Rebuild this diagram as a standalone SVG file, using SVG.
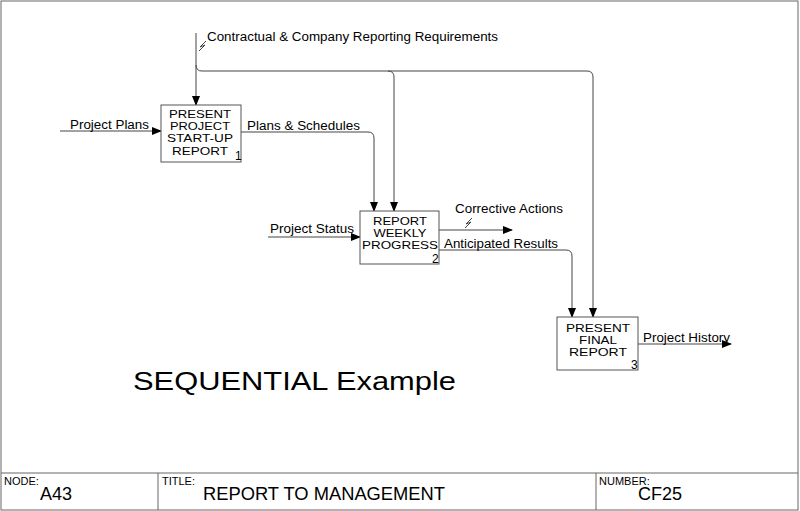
<svg xmlns="http://www.w3.org/2000/svg" width="800" height="511" viewBox="0 0 800 511">
<defs>
<marker id="ah" markerWidth="10" markerHeight="8" refX="9" refY="4" orient="auto" markerUnits="userSpaceOnUse">
<path d="M0,0 L10,4 L0,8 Z" fill="#000"/>
</marker>
</defs>
<style>
text{font-family:"Liberation Sans",Arial,sans-serif;fill:#000}
.box{fill:#fff;stroke:#555;stroke-width:1}
.bt{font-size:10.5px;text-anchor:middle}
.num{font-size:12px}
.lbl{font-size:12.5px}
.ln{fill:none;stroke:#444;stroke-width:1}
.frame{fill:none;stroke:#666;stroke-width:1}
.small{font-size:11px}
.big{font-size:18px}
</style>
<rect width="800" height="511" fill="#fff"/>
<g id="frame">
<rect class="frame" x="1" y="1" width="797" height="509"/>
<line class="frame" x1="1" y1="473" x2="798" y2="473"/>
<line class="frame" x1="158" y1="473" x2="158" y2="510"/>
<line class="frame" x1="596" y1="473" x2="596" y2="510"/>
<text class="small" x="4" y="485">NODE:</text>
<text class="big" x="40" y="500">A43</text>
<text class="small" x="162" y="485">TITLE:</text>
<text class="big" x="203" y="500" textLength="242" lengthAdjust="spacingAndGlyphs">REPORT TO MANAGEMENT</text>
<text class="small" x="599" y="485">NUMBER:</text>
<text class="big" x="638" y="500">CF25</text>
</g>
<g id="connectors">
<path class="ln" d="M196,33 V105" marker-end="url(#ah)"/>
<path class="ln" d="M196,65 Q196,71 202,71 H587 Q593,71 593,77 V317" marker-end="url(#ah)"/>
<path class="ln" d="M388,71 Q394,71 394,77 V211" marker-end="url(#ah)"/>
<path class="ln" d="M206,41 L200,47 L205,45 L199,51"/>
<path class="ln" d="M60,131 H161" marker-end="url(#ah)"/>
<path class="ln" d="M241,132 H368 Q374,132 374,138 V211" marker-end="url(#ah)"/>
<path class="ln" d="M268,237 H360" marker-end="url(#ah)"/>
<path class="ln" d="M439,230 H512" marker-end="url(#ah)"/>
<path class="ln" d="M472,218 L466,224 L471,222 L465,228"/>
<path class="ln" d="M439,250 H566 Q572,250 572,256 V317" marker-end="url(#ah)"/>
<path class="ln" d="M638,344 H731" marker-end="url(#ah)"/>
<text class="lbl" x="207" y="41" textLength="291" lengthAdjust="spacingAndGlyphs">Contractual &amp; Company Reporting Requirements</text>
<text class="lbl" x="70" y="129" textLength="79" lengthAdjust="spacingAndGlyphs">Project Plans</text>
<text class="lbl" x="247" y="130" textLength="113" lengthAdjust="spacingAndGlyphs">Plans &amp; Schedules</text>
<text class="lbl" x="270" y="233" textLength="84" lengthAdjust="spacingAndGlyphs">Project Status</text>
<text class="lbl" x="455" y="213" textLength="108" lengthAdjust="spacingAndGlyphs">Corrective Actions</text>
<text class="lbl" x="444" y="248" textLength="114" lengthAdjust="spacingAndGlyphs">Anticipated Results</text>
<text class="lbl" x="643" y="342" textLength="87" lengthAdjust="spacingAndGlyphs">Project History</text>
</g>
<g id="n1">
<rect class="box" x="161" y="105" width="80" height="57"/>
<text class="bt" x="200" y="118" textLength="62" lengthAdjust="spacingAndGlyphs">PRESENT</text>
<text class="bt" x="200" y="130.2" textLength="60" lengthAdjust="spacingAndGlyphs">PROJECT</text>
<text class="bt" x="200" y="142.4" textLength="66" lengthAdjust="spacingAndGlyphs">START-UP</text>
<text class="bt" x="200" y="154.6" textLength="56" lengthAdjust="spacingAndGlyphs">REPORT</text>
<text class="num" x="235" y="160">1</text>
</g>
<g id="n2">
<rect class="box" x="360" y="211" width="79" height="53"/>
<text class="bt" x="400" y="225" textLength="54" lengthAdjust="spacingAndGlyphs">REPORT</text>
<text class="bt" x="400" y="237.2" textLength="53" lengthAdjust="spacingAndGlyphs">WEEKLY</text>
<text class="bt" x="400" y="249.4" textLength="76" lengthAdjust="spacingAndGlyphs">PROGRESS</text>
<text class="num" x="432" y="263">2</text>
</g>
<g id="n3">
<rect class="box" x="557" y="317" width="81" height="53"/>
<text class="bt" x="598" y="331.5" textLength="64" lengthAdjust="spacingAndGlyphs">PRESENT</text>
<text class="bt" x="598" y="343.7" textLength="38" lengthAdjust="spacingAndGlyphs">FINAL</text>
<text class="bt" x="598" y="355.9" textLength="58" lengthAdjust="spacingAndGlyphs">REPORT</text>
<text class="num" x="631" y="369">3</text>
</g>
<text x="133" y="390" font-size="26" textLength="323" lengthAdjust="spacingAndGlyphs">SEQUENTIAL Example</text>
</svg>
